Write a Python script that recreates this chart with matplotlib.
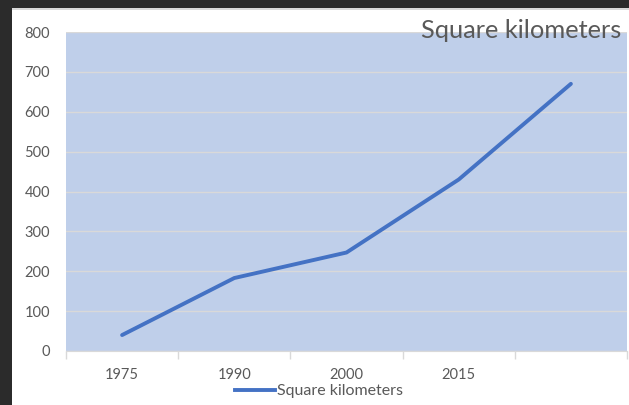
import matplotlib
matplotlib.use("Agg")
import matplotlib.pyplot as plt
from matplotlib.patches import Rectangle
from matplotlib.lines import Line2D

categories = ["1975", "1990", "2000", "2015", ""]
values = [40, 183, 247, 430, 670]
series_name = "Square kilometers"
y_ticks = [0, 100, 200, 300, 400, 500, 600, 700, 800]

plt.rcParams['font.family'] = ['Lato', 'DejaVu Sans']
W, H = 629, 405
fig = plt.figure(figsize=(W / 100, H / 100), dpi=100, facecolor="#2b2b2b")

# white chart area with light top border
fig.patches.append(Rectangle((12 / W, 0), 1, (H - 10) / H, transform=fig.transFigure,
                             facecolor="white", edgecolor="none", zorder=-2))
fig.patches.append(Rectangle((12 / W, (H - 10) / H), 1, 2 / H, transform=fig.transFigure,
                             facecolor="#d9d9d9", edgecolor="none", zorder=-2))

ax = fig.add_axes([66 / W, (H - 351) / H, (627 - 66) / W, (351 - 32) / H])
ax.set_zorder(1)
ax.set_facecolor("#bfcfea")
x = list(range(len(categories)))
ax.plot(x, values, color="#4472c4", lw=2.8, solid_capstyle="round", zorder=3)

ax.set_xlim(-0.5, len(categories) - 0.5)
ax.set_ylim(0, 800)
ax.set_yticks(y_ticks)
ax.set_yticklabels([str(v) for v in y_ticks], fontsize=10.5, color="#595959")
ax.tick_params(axis="y", length=0, pad=11.5)
ax.grid(axis="y", color="#d9d9d9", lw=1)
ax.set_axisbelow(True)

ax.set_xticks(x)
ax.set_xticklabels(categories, fontsize=10.5, color="#595959")
ax.set_xticks([i - 0.5 for i in range(len(categories) + 1)], minor=True)
ax.tick_params(axis="x", which="major", length=0, pad=12)
ax.tick_params(axis="x", which="minor", length=6, color="#d9d9d9", width=1)

for s in ["top", "right", "left"]:
    ax.spines[s].set_visible(False)
ax.spines["bottom"].set_color("#d9d9d9")

fig.text(621 / W, (H - 30) / H, series_name, ha="right", va="center",
         fontsize=18.3, color="#595959", zorder=5)

handle = Line2D([], [], color="#4472c4", lw=2.8)
fig.legend([handle], [series_name], loc="center", bbox_to_anchor=(319 / W, (H - 391) / H),
           frameon=False, fontsize=11.5, labelcolor="#595959", handlelength=2.5,
           handletextpad=0.1, borderaxespad=0)

fig.savefig("out.png", dpi=100, facecolor=fig.get_facecolor())
